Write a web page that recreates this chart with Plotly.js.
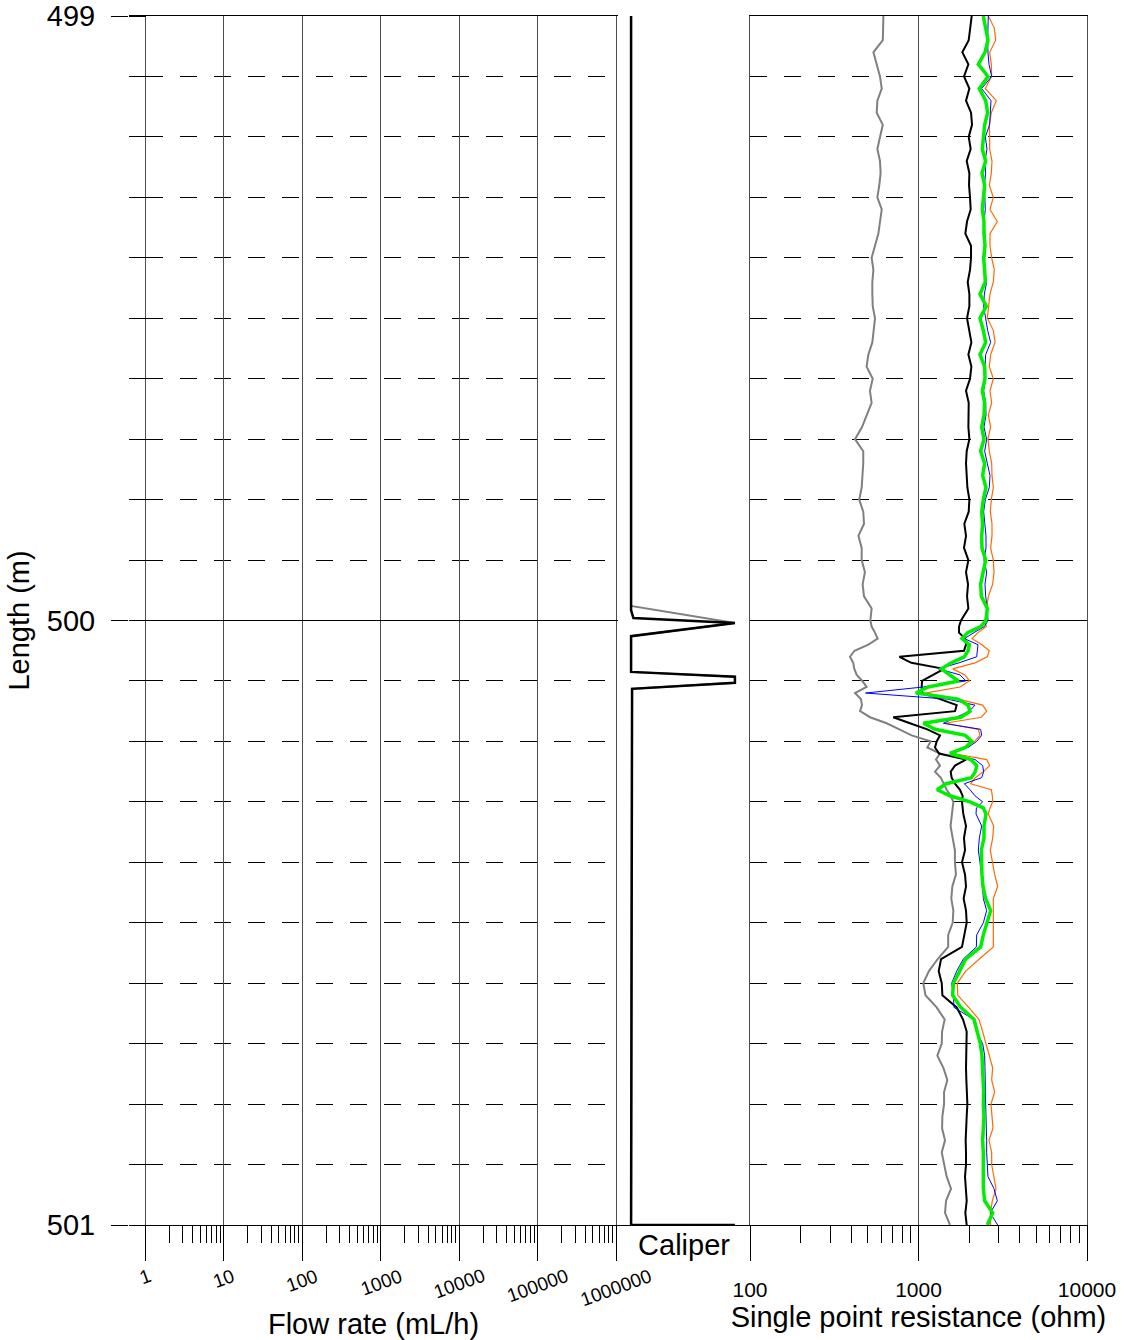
<!DOCTYPE html>
<html>
<head>
<meta charset="utf-8">
<script src="https://cdn.plot.ly/plotly-3.0.1.min.js"></script>
<style>html,body{margin:0;padding:0;background:#fff;}#chart{width:1124px;height:1340px;}</style>
</head>
<body>
<div id="chart"></div>
<script>
// ---- Depth (m) sampled for resistance logs ----
const depth = [
 499.00,499.02,499.04,499.06,499.08,499.10,499.12,499.14,499.16,499.18,
 499.20,499.22,499.24,499.26,499.28,499.30,499.32,499.34,499.36,499.38,
 499.40,499.42,499.44,499.46,499.48,499.50,499.52,499.54,499.56,499.58,
 499.60,499.62,499.64,499.66,499.68,499.70,499.72,499.74,499.76,499.78,
 499.80,499.82,499.84,499.86,499.88,499.90,499.92,499.94,499.96,499.98,
 500.00,500.01,500.02,500.03,500.04,500.05,500.06,500.07,500.08,500.09,
 500.10,500.11,500.12,500.13,500.14,500.15,500.16,500.17,500.18,500.19,
 500.20,500.21,500.22,500.23,500.24,500.25,500.26,500.27,500.28,500.29,
 500.30,500.31,500.32,
 500.34,500.36,500.38,500.40,500.42,500.44,500.46,500.48,500.50,500.52,
 500.54,500.56,500.58,500.60,500.62,500.64,500.66,500.68,500.70,500.72,
 500.74,500.76,500.78,500.80,500.82,500.84,500.86,500.88,500.90,500.92,
 500.94,500.96,500.98,501.00
];

// ---- Single point resistance (ohm) ----
const resGray = [
 619,616,614,540,565,591,605,570,565,614,
 591,570,591,596,585,570,605,591,578,552,
 527,540,532,532,535,552,540,532,504,492,
 535,515,527,492,462,420,470,470,466,460,
 445,470,475,440,460,460,481,466,475,527,
 518,527,552,572,504,417,392,410,416,430,
 464,492,420,455,462,450,516,647,770,910,
 1180,1128,1342,1270,1342,1253,1354,1405,1470,1552,
 1610,1595,1580,
 1550,1595,1645,1645,1668,1588,1565,1610,1595,1500,
 1500,1300,1153,1068,1100,1282,1430,1380,1374,1294,
 1405,1483,1418,1418,1386,1380,1437,1374,1418,1470,
 1560,1457,1437,1538
];
const resBlack = [
 2069,2022,1986,1820,1977,1862,2004,1914,2050,2078,
 1986,2040,1932,2004,1995,2022,2040,1941,1897,2050,
 2050,2022,1959,2004,2004,1941,2004,2060,1977,2060,
 2022,1914,1986,1977,1977,2004,1932,1914,1932,1950,
 2004,1986,1871,1914,1862,1977,1914,1968,1941,1977,
 1788,1740,1740,1888,1914,1862,770,907,1418,1225,
 1050,1044,1052,1342,1685,1647,708,890,1128,1342,
 1282,1253,1324,1914,1647,1552,1573,1647,1763,1828,
 1812,1828,1845,
 1914,1862,1888,1812,1888,1914,1853,1914,1932,1871,
 1812,1361,1318,1374,1386,1685,1837,1932,1923,1905,
 1914,1923,1941,1950,1932,1914,1905,1914,1914,1888,
 1905,1932,1897,1932
];
const resGreen = [
 2425,2515,2584,2481,2265,2584,2296,2504,2573,2470,
 2425,2392,2504,2381,2470,2440,2392,2447,2447,2481,
 2436,2470,2492,2317,2526,2317,2425,2504,2317,2470,
 2481,2392,2470,2447,2371,2447,2338,2470,2403,2515,
 2425,2371,2403,2371,2381,2504,2425,2338,2360,2561,
 2515,2338,1959,1812,2004,1968,1871,1566,1367,1524,
 1724,1143,965,1716,1968,2022,1788,1068,1253,1897,
 2078,1897,1538,2050,2215,2175,2060,1457,1290,1538,
 2022,2425,2515,
 2447,2447,2360,2360,2381,2414,2504,2680,2538,2425,
 2338,1905,1755,1610,1595,1780,2136,2235,2328,2381,
 2403,2425,2436,2425,2447,2425,2403,2425,2425,2447,
 2425,2470,2755,2561
];
const resBlue = [
 2596,2573,2573,2584,2620,2718,2371,2693,2668,2644,
 2492,2549,2481,2504,2459,2470,2492,2447,2470,2504,
 2470,2459,2538,2459,2436,2504,2573,2680,2504,2481,
 2504,2436,2504,2515,2447,2538,2470,2561,2656,2632,
 2492,2436,2470,2515,2515,2447,2538,2481,2504,2561,
 2584,2459,2136,1871,2255,2235,2215,1740,1312,1763,
 1914,1068,485,1483,2165,2004,1670,1405,2338,2371,
 2215,1968,1538,2165,2403,2436,2371,1871,2022,2165,
 2403,2205,2195,
 2371,2296,2265,2317,2371,2403,2425,2538,2425,2215,
 2205,1845,1685,1574,1610,1625,2125,2205,2403,2470,
 2481,2481,2492,2504,2515,2538,2538,2538,2561,2584,
 2806,2937,2668,2950
];
const resOrange = [
 2596,2819,2871,2644,2705,2718,2492,2897,2705,2632,
 2644,2644,2730,2705,2632,2780,2656,2937,2656,2656,
 2718,2819,2780,2656,2608,2561,2780,2845,2680,2632,
 2780,2656,2718,2596,2680,2584,2632,2718,2730,2780,
 2705,2668,2730,2730,2680,2780,2806,2755,2596,2538,
 2481,2526,2255,2078,2381,2632,2561,2165,1595,1888,
 2004,1763,1092,1724,2403,2538,2360,1437,2265,2317,
 2155,1914,1610,2538,2644,2425,2175,2040,2705,2743,
 2755,2656,2596,
 2793,2755,2668,2743,2832,2950,2780,2780,2780,2780,
 2780,2296,1905,1700,1710,1986,2286,2403,2515,2644,
 2755,2718,2832,2693,2718,2767,2620,2718,2718,2806,
 2884,2743,2668,2680
];

// ---- Caliper ----
const caliperDepthBlack = [499.00,499.983,499.996,500.004,500.026,500.085,500.093,500.103,500.113,501.00,501.00];
const caliperBlack      = [76.45, 76.45,  76.52,  79.55,  76.45,  76.45,  79.55,  79.55,  76.48,  76.45, 79.55];
const caliperDepthGray  = [499.00,499.976,500.004,500.026,500.085,500.093,500.103,500.113,501.00];
const caliperGray       = [76.45, 76.45,  79.55,  76.45,  76.45,  79.55,  79.55,  76.48,  76.45];

// ---- Tick labels ----
const flowTicks = [1,10,100,1000,10000,100000,1000000];
const flowTickText = ['1','10','100','1000','10000','100000','1000000'];
const resTicks = [100,1000,10000];
const resTickText = ['100','1000','10000'];
const minorDigits = [2,3,4,5,6,7,8,9];

const flowMinor = [];
flowTicks.slice(0, -1).forEach(d => minorDigits.forEach(m => flowMinor.push(d * m)));

const FONT = 'Liberation Sans, Arial, Helvetica, sans-serif';
const W = 1124;

function res(x, color, width) {
  return {x: x, y: depth, xaxis: 'x3', yaxis: 'y2', type: 'scatter', mode: 'lines',
          line: {color: color, width: width}, hoverinfo: 'skip'};
}

const traces = [
  {x: caliperGray, y: caliperDepthGray, xaxis: 'x2', yaxis: 'y3', type: 'scatter', mode: 'lines',
   line: {color: '#808080', width: 2}, cliponaxis: false},
  {x: caliperBlack, y: caliperDepthBlack, xaxis: 'x2', yaxis: 'y3', type: 'scatter', mode: 'lines',
   line: {color: '#000000', width: 2.5}, cliponaxis: false},
  res(resGray, '#808080', 2),
  res(resBlack, '#000000', 2),
  res(resOrange, '#ff6a00', 1.2),
  res(resBlue, '#0000ff', 1),
  res(resGreen, '#00ee00', 3.5)
];

const annotations = flowTicks.map((v, i) => ({
  xref: 'x', yref: 'paper', x: Math.log10(v), y: -0.031,
  text: flowTickText[i], showarrow: false, textangle: -20,
  xanchor: 'center', yanchor: 'top', font: {size: 19, color: '#000', family: FONT}
}));

const minorY = {dtick: 0.1, tick0: 499, showgrid: true, gridcolor: '#000', gridwidth: 1};

const layout = {
  width: 1124, height: 1340,
  margin: {l: 0, r: 0, t: 16, b: 115, pad: 0},
  paper_bgcolor: '#fff', plot_bgcolor: '#fff',
  showlegend: false,
  font: {family: FONT, color: '#000'},
  xaxis: {
    domain: [129 / W, 618 / W], anchor: 'y', type: 'log', range: [-0.21, 6.02],
    dtick: 1, tick0: 0, showticklabels: false,
    ticks: 'outside', ticklen: 35, tickcolor: '#000', tickwidth: 1,
    showgrid: true, gridcolor: '#4d4d4d', gridwidth: 1, zeroline: false,
    minor: {tickmode: 'array', tickvals: flowMinor, ticks: 'outside', ticklen: 17, tickcolor: '#000', tickwidth: 1, showgrid: false},
    showline: true, mirror: true, linecolor: '#000', linewidth: 1,
    title: {text: 'Flow rate (mL/h)', font: {size: 29, family: FONT}, standoff: 54}
  },
  xaxis2: {
    domain: [618 / W, 750 / W], anchor: 'y3', range: [76.06, 80.0],
    showgrid: false, zeroline: false, showticklabels: false, ticks: '',
    showline: true, linecolor: '#000', linewidth: 1,
    title: {text: 'Caliper', font: {size: 29, family: FONT}, standoff: 9}
  },
  xaxis3: {
    domain: [750 / W, 1087 / W], anchor: 'y2', type: 'log', range: [2, 4],
    tickmode: 'array', tickvals: resTicks, ticktext: resTickText,
    ticks: 'outside', ticklen: 35, tickcolor: '#000', tickwidth: 1,
    tickfont: {size: 21, family: FONT}, ticklabelstandoff: 11,
    showgrid: true, gridcolor: '#4d4d4d', gridwidth: 1, zeroline: false,
    minor: {dtick: 'D1', ticks: 'outside', ticklen: 17, tickcolor: '#000', tickwidth: 1, showgrid: false},
    showline: true, mirror: true, linecolor: '#000', linewidth: 1,
    title: {text: 'Single point resistance (ohm)', font: {size: 29, family: FONT}, standoff: 6}
  },
  yaxis: {
    domain: [0, 1], anchor: 'x', range: [501, 499], autorange: false,
    dtick: 1, tick0: 499, ticks: 'outside', ticklen: 17, tickcolor: '#000', tickwidth: 1,
    tickfont: {size: 29, family: FONT}, ticklabelstandoff: 10,
    showgrid: true, gridcolor: '#000', gridwidth: 1, zeroline: false, showline: false,
    minor: Object.assign({}, minorY, {griddash: '0px,17px,17px,0px', ticks: 'inside', ticklen: 17, tickcolor: '#000', tickwidth: 1}),
    title: {text: 'Length (m)', font: {size: 29, family: FONT}, standoff: 8}
  },
  yaxis2: {
    domain: [0, 1], anchor: 'x3', matches: 'y', range: [501, 499], autorange: false,
    dtick: 1, tick0: 499, showticklabels: false, ticks: '',
    showgrid: true, gridcolor: '#000', gridwidth: 1, zeroline: false,
    minor: Object.assign({}, minorY, {griddash: '17px,17px'}),
    showline: true, mirror: true, linecolor: '#4d4d4d', linewidth: 1
  },
  yaxis3: {
    domain: [0, 1], anchor: 'x2', matches: 'y', range: [501, 499], autorange: false,
    visible: false, showgrid: false, zeroline: false
  },
  annotations: annotations
};

Plotly.newPlot('chart', traces, layout, {staticPlot: true, displayModeBar: false});
</script>
</body>
</html>
